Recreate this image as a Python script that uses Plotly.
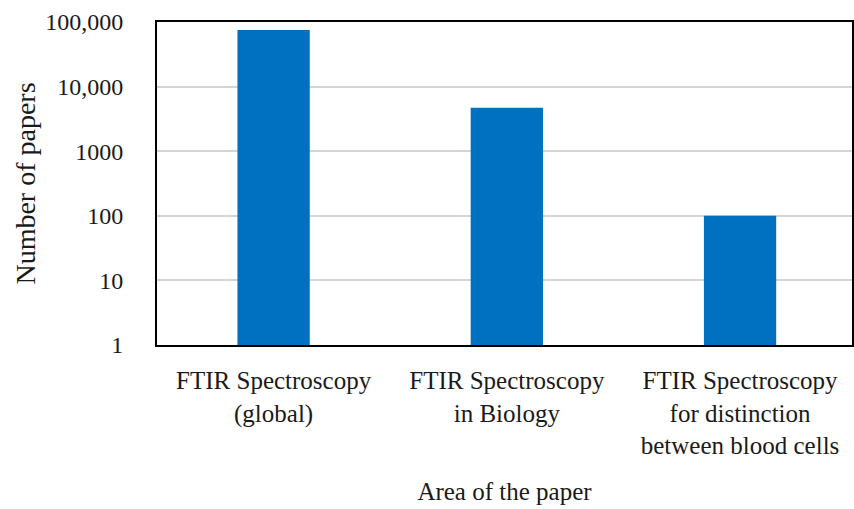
import plotly.graph_objects as go

# Publication counts by research area (log scale)
categories = [
    "FTIR Spectroscopy<br>(global)",
    "FTIR Spectroscopy<br>in Biology",
    "FTIR Spectroscopy<br>for distinction<br>between blood cells",
]
paper_counts = [75000, 4700, 100]

y_tick_values = [1, 10, 100, 1000, 10000, 100000]
y_tick_labels = ["1", "10", "100", "1000", "10,000", "100,000"]

FONT = "Liberation Serif"
BAR_COLOR = "#0070C0"

fig = go.Figure(
    go.Bar(
        x=categories,
        y=paper_counts,
        marker=dict(color=BAR_COLOR, line=dict(width=0)),
        width=0.31,
    )
)

fig.update_layout(
    width=854,
    height=509,
    margin=dict(l=157, r=0, t=22, b=164),
    paper_bgcolor="white",
    plot_bgcolor="white",
    font=dict(family=FONT, size=24, color="#1a1a1a"),
    showlegend=False,
)

fig.update_xaxes(
    range=[-0.5, 2.48],
    showline=True,
    linecolor="black",
    linewidth=2,
    mirror=True,
    showgrid=False,
    ticks="",
    ticklabelstandoff=12,
    tickfont=dict(family=FONT, size=25),
    title=dict(text="Area of the paper", font=dict(family=FONT, size=25), standoff=24),
)

fig.update_yaxes(
    type="log",
    range=[0, 5],
    tickvals=y_tick_values,
    ticktext=y_tick_labels,
    showline=True,
    linecolor="black",
    linewidth=2,
    mirror=True,
    showgrid=True,
    gridcolor="#d4d4d4",
    gridwidth=1.5,
    zeroline=False,
    ticks="",
    ticklabelstandoff=27,
    tickfont=dict(family=FONT, size=24),
    title=dict(text="Number of papers", font=dict(family=FONT, size=28), standoff=1),
)

fig.write_html("out.html")
